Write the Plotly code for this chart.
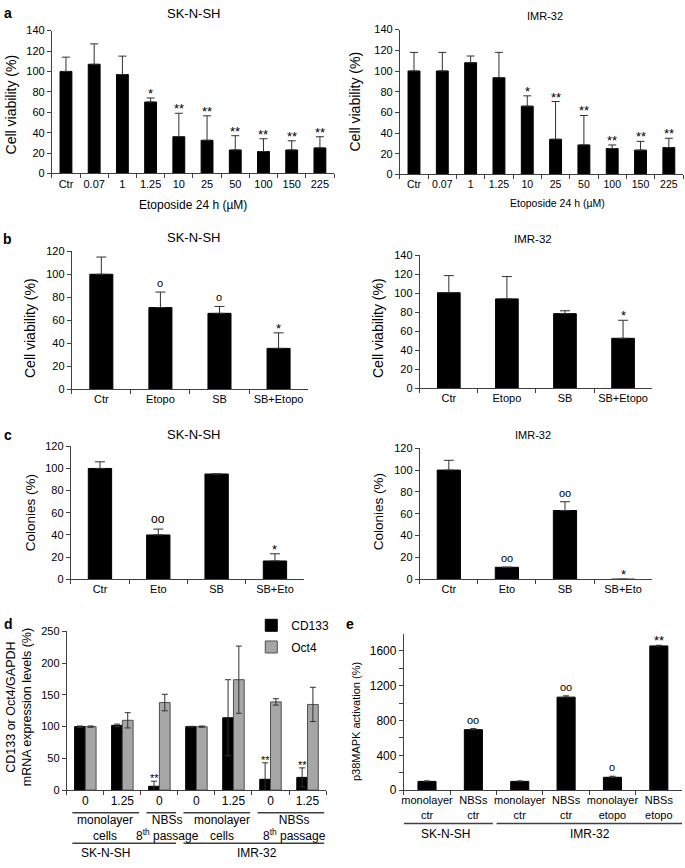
import plotly.graph_objects as go

W, H = 685, 868
FONT = "Liberation Sans, Arial, Helvetica, sans-serif"
AX = "#404040"
ERR = "#303030"

# ---------------- data ----------------
# panel a: etoposide dose response
a_cats = ["Ctr", "0.07", "1", "1.25", "10", "25", "50", "100", "150", "225"]
a_sk_mean = [100, 107, 97, 70, 36, 32.5, 23, 21.5, 23, 25]
a_sk_err = [14, 20, 18, 4, 23, 24, 14, 12.5, 9, 11]
a_sk_sig = ["", "", "", "*", "**", "**", "**", "**", "**", "**"]
a_imr_mean = [100, 100, 108, 93.5, 66, 34, 28.5, 25, 23.5, 26]
a_imr_err = [18, 18, 6.5, 24.5, 10, 36.5, 28.5, 3.5, 8.5, 9]
a_imr_sig = ["", "", "", "", "*", "**", "**", "**", "**", "**"]

# panel b: cell viability with SB
b_cats = ["Ctr", "Etopo", "SB", "SB+Etopo"]
b_sk_mean = [100, 71, 66, 35.5]
b_sk_err = [15, 13.5, 6, 13.5]
b_sk_sig = ["", "o", "o", "*"]
b_imr_mean = [100.5, 94, 78.5, 52.5]
b_imr_err = [18, 23.5, 3, 19]
b_imr_sig = ["", "", "", "*"]

# panel c: colonies
c_cats = ["Ctr", "Eto", "SB", "SB+Eto"]
c_sk_mean = [100, 40, 95, 16.5]
c_sk_err = [6, 5.3, 0, 6.5]
c_sk_sig = ["", "oo", "", "*"]
c_imr_mean = [100, 11, 63, 0]
c_imr_err = [9, 0, 8, 0]
c_imr_sig = ["", "oo", "oo", "*"]

# panel d: CD133 / Oct4 expression
d_ids = ["sk_m0", "sk_m125", "sk_n0", "imr_m0", "imr_m125", "imr_n0", "imr_n125"]
d_ticks = ["0", "1.25", "0", "0", "1.25", "0", "1.25"]
d_cd133 = [100, 102, 6, 100, 114, 17, 20]
d_cd133_err = [1, 2, 8, 0.5, 60, 26, 15]
d_cd133_sig = ["", "", "**", "", "", "**", "**"]
d_oct4 = [100, 110, 138, 100, 174, 139, 135]
d_oct4_err = [1, 12, 13, 1, 53, 5, 27]
d_groups = ["monolayer<br>cells", "NBSs<br>8<sup>th</sup> passage",
            "monolayer<br>cells", "NBSs<br>8<sup>th</sup> passage"]
d_group_span = [(0, 1), (2, 2), (3, 4), (5, 6)]
d_lines = ["SK-N-SH", "IMR-32"]
d_line_span = [(0, 2), (3, 6)]

# panel e: p38MAPK activation
e_ids = ["sk_mc", "sk_nc", "imr_mc", "imr_nc", "imr_me", "imr_ne"]
e_ticks = ["monolayer<br>ctr", "NBSs<br>ctr", "monolayer<br>ctr", "NBSs<br>ctr",
           "monolayer<br>etopo", "NBSs<br>etopo"]
e_vals = [100, 695, 100, 1069, 147, 1658]
e_err = [5, 12, 5, 15, 12, 8]
e_sig = ["", "oo", "", "oo", "o", "**"]
e_lines = ["SK-N-SH", "IMR-32"]
e_line_span = [(0, 1), (2, 5)]


# ---------------- helpers ----------------
def fx(px):
    return px / W


def fy(py):
    return 1 - py / H


fig = go.Figure()
layout_axes = {}
annotations = []
shapes = []


def keys(i):
    s = "" if i == 1 else str(i)
    return "x" + s, "y" + s, "xaxis" + s, "yaxis" + s


def setup_axes(i, ids, ticktext, xpx, ypx, yrange, ytv, yfont=11, xfont=11, yminor=None):
    xr, yr, xk, yk = keys(i)
    layout_axes[xk] = dict(
        domain=[fx(xpx[0]), fx(xpx[1])], anchor=yr, type="category",
        categoryorder="array", categoryarray=ids, tickmode="array",
        tickvals=ids, ticktext=ticktext, range=[-0.5, len(ids) - 0.5],
        tickangle=0, showline=True, linecolor=AX, linewidth=1, ticks="outside",
        tickson="boundaries", ticklen=4, tickcolor=AX, showgrid=False,
        zeroline=False, tickfont=dict(size=xfont, color="black", family=FONT),
        fixedrange=True)
    ydict = dict(
        domain=[fy(ypx[1]), fy(ypx[0])], anchor=xr, range=yrange,
        tickmode="array", tickvals=ytv, ticktext=[str(v) for v in ytv], showline=True,
        linecolor=AX, linewidth=1, ticks="outside", ticklen=4, tickcolor=AX,
        showgrid=False, zeroline=False,
        tickfont=dict(size=yfont, color="black", family=FONT), fixedrange=True)
    if yminor is not None:
        ydict["minor"] = dict(tickmode="array", tickvals=yminor, ticks="outside",
                              ticklen=4, tickcolor=AX, showgrid=False)
    layout_axes[yk] = ydict
    return xr, yr


def bars(xr, yr, ids, vals, errs, width, capw, color="black", line_color="black",
         offset=None, symmetric=False, name=None, showlegend=False, legend="legend"):
    kw = dict(x=ids, y=vals, xaxis=xr, yaxis=yr, width=width,
              marker=dict(color=color, line=dict(color=line_color, width=1)),
              error_y=dict(type="data", array=errs,
                           arrayminus=errs if symmetric else [0] * len(errs),
                           symmetric=False, color=ERR, thickness=1, width=capw),
              name=name or "", showlegend=showlegend, hoverinfo="skip",
              legend=legend)
    if offset is not None:
        kw["offset"] = offset
    fig.add_trace(go.Bar(**kw))


def sigs(xr, yr, vals, errs, marks, dx=0.0, size=13, osize=11):
    for k, (v, e, m) in enumerate(zip(vals, errs, marks)):
        if not m:
            continue
        star = "*" in m
        annotations.append(dict(
            x=k + dx, y=v + e, xref=xr, yref=yr, text=m, showarrow=False,
            xanchor="center", yanchor="bottom", yshift=-5 if star else 1,
            font=dict(size=size if star else osize, color="#000000", family=FONT)))


def text(px, py, t, size=12, bold=False, angle=0, xanchor="center"):
    annotations.append(dict(
        x=fx(px), y=fy(py), xref="paper", yref="paper",
        text=("<b>%s</b>" % t) if bold else t, showarrow=False,
        xanchor=xanchor, yanchor="middle", textangle=angle,
        font=dict(size=size, color="black", family=FONT)))


def tick_range(lo, hi, step):
    out = []
    v = lo
    while v <= hi + 1e-9:
        out.append(v)
        v += step
    return out


# ---------------- panel a ----------------
yt = tick_range(0, 140, 20)
xr, yr = setup_axes(1, a_cats, a_cats, (50, 333), (25, 170), [0, 140], yt)
bars(xr, yr, a_cats, a_sk_mean, a_sk_err, 0.42, 4)
sigs(xr, yr, a_sk_mean, a_sk_err, a_sk_sig)
text(6, 7, "a", 14, bold=True)
text(192, 8, "SK-N-SH", 13)
text(192, 202, "Etoposide 24 h (µM)", 12)
text(9, 100, "Cell viability (%)", 14, angle=-90)

xr, yr = setup_axes(2, a_cats, a_cats, (399, 683), (24, 171), [0, 140], yt, xfont=10.5)
bars(xr, yr, a_cats, a_imr_mean, a_imr_err, 0.42, 4)
sigs(xr, yr, a_imr_mean, a_imr_err, a_imr_sig)
text(545, 10, "IMR-32", 11)
text(557, 200, "Etoposide 24 h (µM)", 10.5)
text(354, 97, "Cell viability (%)", 14, angle=-90)

# ---------------- panel b ----------------
yt = tick_range(0, 120, 20)
xr, yr = setup_axes(3, b_cats, b_cats, (70, 307), (249, 389), [0, 120], yt)
bars(xr, yr, b_cats, b_sk_mean, b_sk_err, 0.39, 5)
sigs(xr, yr, b_sk_mean, b_sk_err, b_sk_sig)
text(6, 237, "b", 14, bold=True)
text(192, 235, "SK-N-SH", 13)
text(28, 327, "Cell viability (%)", 14, angle=-90)

yt = tick_range(0, 140, 20)
xr, yr = setup_axes(4, b_cats, b_cats, (419, 652), (253, 388), [0, 140], yt)
bars(xr, yr, b_cats, b_imr_mean, b_imr_err, 0.39, 5)
sigs(xr, yr, b_imr_mean, b_imr_err, b_imr_sig)
text(533, 237, "IMR-32", 11.5)
text(377, 327, "Cell viability (%)", 14, angle=-90)

# ---------------- panel c ----------------
yt = tick_range(0, 120, 20)
xr, yr = setup_axes(5, c_cats, c_cats, (69, 303), (447, 582), [0, 120], yt)
bars(xr, yr, c_cats, c_sk_mean, c_sk_err, 0.4, 5)
sigs(xr, yr, c_sk_mean, c_sk_err, c_sk_sig, osize=12)
text(6, 436, "c", 14, bold=True)
text(192, 435, "SK-N-SH", 13)
text(28, 514, "Colonies (%)", 13.5, angle=-90)

xr, yr = setup_axes(6, c_cats, c_cats, (419, 652), (449, 582), [0, 120], yt)
bars(xr, yr, c_cats, c_imr_mean, c_imr_err, 0.4, 5)
sigs(xr, yr, c_imr_mean, c_imr_err, c_imr_sig)
text(533, 436, "IMR-32", 11)
text(377, 513, "Colonies (%)", 13.5, angle=-90)

# ---------------- panel d ----------------
yt = tick_range(0, 250, 50)
xr, yr = setup_axes(7, d_ids, d_ticks, (65, 325), (635, 796), [0, 250], yt, xfont=12)
bars(xr, yr, d_ids, d_cd133, d_cd133_err, 0.29, 3, offset=-0.29, symmetric=True,
     name="CD133", showlegend=True, legend="legend")
bars(xr, yr, d_ids, d_oct4, d_oct4_err, 0.29, 3, color="#a6a6a6", line_color="#505050",
     offset=0, symmetric=True, name="Oct4", showlegend=True, legend="legend2")
sigs(xr, yr, d_cd133, d_cd133_err, d_cd133_sig, dx=-0.145, size=11)
text(7, 627, "d", 14, bold=True)
text(17, 712, "CD133 or Oct4/GAPDH<br>mRNA expression levels (%)", 12.5, angle=-90)
d_group_x = [0.54, 2.22, 3.68, 5.65]
for g, (s, e), gx in zip(d_groups, d_group_span, d_group_x):
    shapes.append(dict(type="line", xref=xr, yref="paper", x0=s - 0.35, x1=e + 0.45,
                       y0=fy(819), y1=fy(819), line=dict(color=AX, width=1.5)))
    annotations.append(dict(x=gx, y=fy(834.5), xref=xr, yref="paper", text=g,
                            showarrow=False, xanchor="center", yanchor="middle",
                            font=dict(size=12, color="black", family=FONT)))
d_line_x = [0.54, 4.63]
for g, (s, e), gx in zip(d_lines, d_line_span, d_line_x):
    shapes.append(dict(type="line", xref=xr, yref="paper", x0=s - 0.35, x1=e + 0.45,
                       y0=fy(850), y1=fy(850), line=dict(color=AX, width=1.5)))
    annotations.append(dict(x=gx, y=fy(860), xref=xr, yref="paper", text=g,
                            showarrow=False, xanchor="center", yanchor="middle",
                            font=dict(size=12, color="black", family=FONT)))

# ---------------- panel e ----------------
yt = tick_range(0, 1600, 400)
xr, yr = setup_axes(8, e_ids, e_ticks, (403, 682), (638, 796), [0, 1790], yt, yfont=12,
                    yminor=tick_range(200, 1400, 400))
bars(xr, yr, e_ids, e_vals, e_err, 0.39, 3)
sigs(xr, yr, e_vals, e_err, e_sig)
text(349, 627, "e", 14, bold=True)
text(355, 726, "p38MAPK activation (%)", 11, angle=-90)
e_line_x = [0.4, 3.52]
for g, (s, e), gx in zip(e_lines, e_line_span, e_line_x):
    shapes.append(dict(type="line", xref=xr, yref="paper", x0=s - 0.5,
                       x1=e + 0.42 if s == 0 else e + 0.5,
                       y0=fy(830), y1=fy(830), line=dict(color=AX, width=1.5)))
    annotations.append(dict(x=gx, y=fy(841), xref=xr, yref="paper", text=g,
                            showarrow=False, xanchor="center", yanchor="middle",
                            font=dict(size=12, color="black", family=FONT)))

leg_common = dict(xanchor="left", yanchor="top", bgcolor="rgba(0,0,0,0)",
                  font=dict(size=12, family=FONT, color="black"), itemwidth=30)
fig.update_layout(
    width=W, height=H, margin=dict(l=0, r=0, t=0, b=0, pad=0),
    paper_bgcolor="white", plot_bgcolor="white", barmode="overlay",
    font=dict(family=FONT, size=11, color="black"),
    showlegend=True,
    legend=dict(x=fx(250), y=fy(614), **leg_common),
    legend2=dict(x=fx(250), y=fy(636), **leg_common),
    annotations=annotations, shapes=shapes, **layout_axes)

fig.write_html("out.html", config={"displayModeBar": False},
               post_script="document.body.style.margin='0px';"
                           "document.body.style.overflow='hidden';")
